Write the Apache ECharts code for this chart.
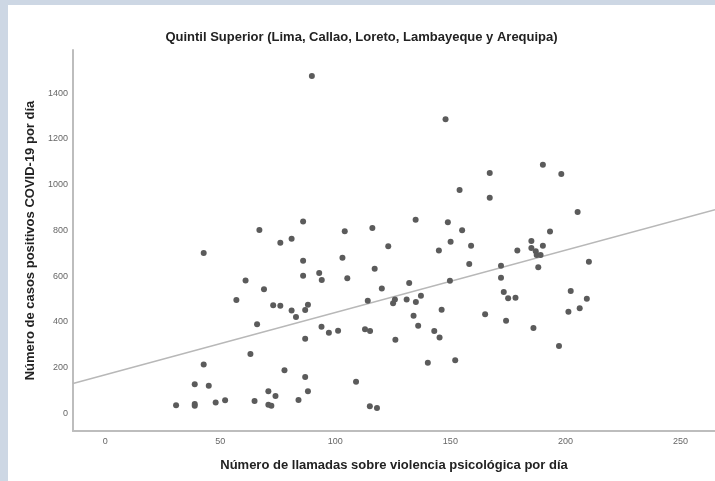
<!DOCTYPE html>
<html>
<head>
<meta charset="utf-8">
<script src="https://cdn.jsdelivr.net/npm/echarts@6/dist/echarts.min.js"></script>
<style>
  html, body { margin: 0; padding: 0; background: #cdd7e4; }
  #chart { position: absolute; left: 8px; top: 5px; width: 707px; height: 476px; background: #ffffff; }
</style>
</head>
<body>
<div id="chart"></div>
<script>
// llamadas por dia (x) y casos positivos por dia (y)
var llamadas = [30.8, 38.9, 38.9, 38.9, 42.8, 42.8, 45.0, 48.0, 52.1, 57.0,
  61.0, 63.1, 64.9, 66.0, 67.0, 69.0, 70.9, 70.9, 72.2, 73.0,
  74.0, 76.1, 76.1, 77.9, 81.0, 81.0, 82.9, 84.0, 86.0, 86.0,
  86.0, 86.9, 88.1, 86.9, 86.9, 88.1, 89.8, 93.0, 94.1, 94.0,
  97.2, 101.2, 103.1, 104.1, 105.2, 109.0, 112.9, 115.1, 114.1, 115.0,
  118.1, 116.1, 117.1, 120.2, 123.0, 125.1, 125.9, 126.1, 131.0, 132.1,
  134.0, 134.9, 135.0, 136.0, 137.2, 140.2, 143.0, 145.0, 145.3, 146.2,
  147.9, 148.9, 150.1, 149.8, 152.1, 154.0, 155.1, 158.2, 159.0, 165.1,
  167.1, 167.1, 172.0, 172.0, 173.2, 174.2, 175.1, 178.3, 179.1, 185.2,
  185.2, 187.1, 187.5, 189.2, 190.2, 188.2, 186.1, 190.2, 193.3, 197.2,
  198.2, 201.3, 202.3, 205.3, 206.2, 209.3, 210.2];
var casos = [35, 41, 33, 127, 214, 701, 121, 48, 57, 495,
  581, 259, 54, 389, 801, 542, 97, 38, 33, 472,
  76, 470, 746, 188, 763, 450, 421, 58, 839, 667,
  601, 452, 475, 326, 159, 97, 1474, 613, 583, 379,
  352, 361, 680, 796, 590, 138, 368, 360, 492, 31,
  24, 810, 632, 546, 730, 481, 498, 322, 498, 570,
  427, 846, 487, 383, 514, 221, 360, 712, 332, 453,
  1285, 835, 750, 580, 232, 976, 800, 653, 733, 433,
  1050, 942, 645, 593, 530, 405, 503, 505, 712, 753,
  723, 709, 692, 692, 733, 639, 373, 1087, 795, 294,
  1046, 444, 535, 880, 459, 501, 663];
// recta de ajuste (extremos del eje x)
var ajuste = [[-14, 131], [265, 890]];
var xTicks = [0, 50, 100, 150, 200, 250];
var yTicks = [0, 200, 400, 600, 800, 1000, 1200, 1400];

var puntos = llamadas.map(function (x, i) { return [x, casos[i]]; });

var chart = echarts.init(document.getElementById('chart'));
var option = {
  animation: false,
  title: {
    text: 'Quintil Superior (Lima, Callao, Loreto, Lambayeque y Arequipa)',
    left: 'center',
    top: 21,
    padding: [5, 0, 5, 8],
    textStyle: { fontFamily: 'Liberation Sans', fontSize: 13, fontWeight: 'bold', color: '#222' }
  },
  grid: { left: 65, right: 0, top: 45, bottom: 50 },
  xAxis: {
    type: 'value',
    min: -14,
    max: 265,
    name: 'Número de llamadas sobre violencia psicológica por día',
    nameLocation: 'middle',
    nameGap: 28,
    nameTextStyle: { fontFamily: 'Liberation Sans', fontSize: 13, fontWeight: 'bold', color: '#222' },
    axisLine: { onZero: false, lineStyle: { color: '#bdbdbd', width: 2 } },
    axisTick: { show: false },
    splitLine: { show: false },
    axisLabel: {
      customValues: xTicks,
      formatter: function (v) { return String(v); },
      margin: 6,
      fontFamily: 'Liberation Sans', fontSize: 9, color: '#666'
    }
  },
  yAxis: {
    type: 'value',
    min: -77,
    max: 1588,
    name: 'Número de casos positivos COVID-19 por día',
    nameLocation: 'middle',
    nameRotate: 90,
    nameGap: 36,
    nameTextStyle: { fontFamily: 'Liberation Sans', fontSize: 13, fontWeight: 'bold', color: '#222' },
    axisLine: { show: true, onZero: false, lineStyle: { color: '#bdbdbd', width: 2 } },
    axisTick: { show: false },
    splitLine: { show: false },
    axisLabel: {
      customValues: yTicks,
      formatter: function (v) { return String(v); },
      margin: 5,
      fontFamily: 'Liberation Sans', fontSize: 9, color: '#666'
    }
  },
  series: [
    {
      type: 'line',
      data: ajuste,
      symbol: 'none',
      lineStyle: { color: '#b8b8b8', width: 1.5 },
      silent: true,
      z: 1
    },
    {
      type: 'scatter',
      data: puntos,
      symbolSize: 6,
      itemStyle: { color: '#5b5b5b', opacity: 1 },
      z: 2
    }
  ]
};
chart.setOption(option);
</script>
</body>
</html>
